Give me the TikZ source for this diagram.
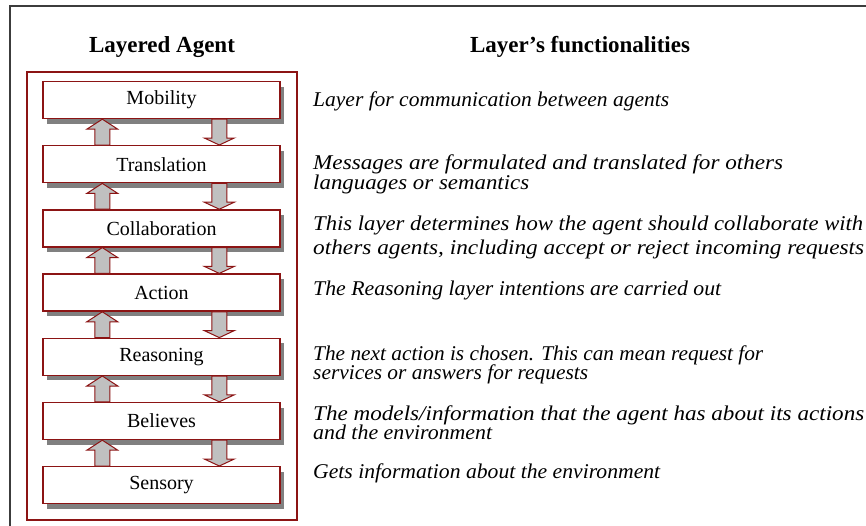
\documentclass[tikz,border=0pt]{standalone}
\usepackage{fontspec}
\setmainfont{Liberation Serif}
\usetikzlibrary{calc,shadows}
\definecolor{dred}{RGB}{140,20,20}
\definecolor{agray}{RGB}{192,192,192}
\definecolor{sgray}{RGB}{128,128,128}
\definecolor{frame}{RGB}{60,60,60}
\newcommand\fitline[2]{\resizebox{#1}{\height}{#2}}
\newcommand\uparr[2]{%
  \draw[arr] ($(#1.north west)+(52.5,0)$) -- ($(#2.south west)+(52.5,10)$) -- ($(#2.south west)+(44.5,10)$)
    -- ($(#2.south west)+(60,0)$) -- ($(#2.south west)+(75.5,10)$) -- ($(#2.south west)+(67.5,10)$)
    -- ($(#1.north west)+(67.5,0)$) -- cycle;}
\newcommand\downarr[2]{%
  \draw[arr] ($(#1.south west)+(169.5,0)$) -- ($(#2.north west)+(169.5,-7)$) -- ($(#2.north west)+(162,-7)$)
    -- ($(#2.north west)+(177,0)$) -- ($(#2.north west)+(192,-7)$) -- ($(#2.north west)+(184.5,-7)$)
    -- ($(#1.south west)+(184.5,0)$) -- cycle;}
\begin{document}
\begin{tikzpicture}[x=1pt,y=-1pt,
  layer/.style={draw=dred,line width=1.4pt,fill=white,minimum width=237pt,minimum height=37pt,inner sep=0pt,
    font=\fontsize{20}{24}\selectfont,
    drop shadow={shadow xshift=4pt,shadow yshift=-5pt,fill=sgray,opacity=1}},
  arr/.style={draw=dred,fill=agray,line width=1pt,line join=miter},
  desc/.style={anchor=base west,inner sep=0pt,font=\fontsize{21}{22}\selectfont\itshape},
  title/.style={anchor=base,inner sep=0pt,font=\fontsize{23}{26}\selectfont\bfseries}]
\useasboundingbox (0,0) rectangle (866,525);
\fill[white] (0,0) rectangle (866,525);
\draw[line width=1.8pt,frame] (867,6) -- (10,6) -- (10,526);
\draw[dred,line width=1.4pt] (27,72) rectangle (297,520);
\node[title] (t1) at (162,52) {Layered Agent};
\node[title] (t2) at (580,52) {Layer’s functionalities};
\foreach \n/\t [count=\i from 0] in {mob/Mobility,tra/Translation,col/Collaboration,act/Action,rea/Reasoning,bel/Believes,sen/Sensory}
  \node[layer] (\n) at (161.5,100+64.2*\i) {\t};
\uparr{tra}{mob}\downarr{mob}{tra}
\uparr{col}{tra}\downarr{tra}{col}
\uparr{act}{col}\downarr{col}{act}
\uparr{rea}{act}\downarr{act}{rea}
\uparr{bel}{rea}\downarr{rea}{bel}
\uparr{sen}{bel}\downarr{bel}{sen}
\node[desc] (d1) at (313,106) {\fitline{356pt}{Layer for communication between agents}};
\node[desc] (d2a) at (313,169) {\fitline{470pt}{Messages are formulated and translated for others}};
\node[desc] (d2b) at (313,189) {\fitline{216pt}{languages or semantics}};
\node[desc] (d3a) at (313,230) {\fitline{550pt}{This layer determines how the agent should collaborate with}};
\node[desc] (d3b) at (313,254) {\fitline{551pt}{others agents, including accept or reject incoming requests}};
\node[desc] (d4) at (313,295) {\fitline{408pt}{The Reasoning layer intentions are carried out}};
\node[desc] (d5a) at (313,360) {\fitline{450pt}{The next action is chosen. This can mean request for}};
\node[desc] (d5b) at (313,379) {\fitline{275pt}{services or answers for requests}};
\node[desc] (d6a) at (313,420) {\fitline{551pt}{The models/information that the agent has about its actions}};
\node[desc] (d6b) at (313,439) {\fitline{179pt}{and the environment}};
\node[desc] (d7) at (313,478) {\fitline{347pt}{Gets information about the environment}};
\end{tikzpicture}
\end{document}
